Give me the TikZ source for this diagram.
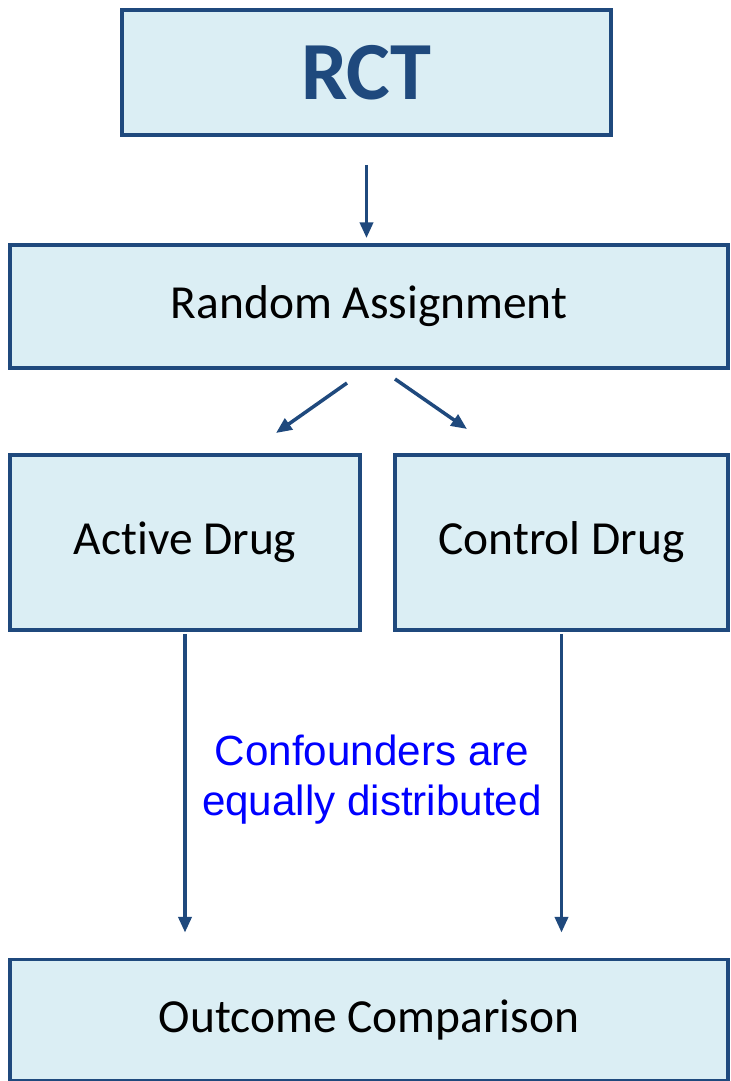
\documentclass[tikz,border=0pt]{standalone}
\usepackage{fontspec}
\setmainfont[Ligatures=NoCommon]{Carlito}
\newfontfamily\arialfont{Liberation Sans}
\usetikzlibrary{positioning, arrows.meta}
\definecolor{boxfill}{HTML}{DBEEF4}
\definecolor{boxline}{HTML}{1F497D}
\tikzset{box/.style={rectangle, draw=boxline, fill=boxfill, line width=2.2pt,
                     inner sep=0pt, font=\fontsize{27}{32}\selectfont},
         arr/.style={draw=boxline, line width=2pt,
                     -{Triangle[length=9pt,width=7.5pt]}}}

\begin{document}
\begin{tikzpicture}
        \useasboundingbox (0,0) rectangle (14.6,-21.62);
        \node[box, minimum width=9.78cm, minimum height=2.5cm,
              font=\fontsize{47}{50}\selectfont\bfseries, text=boxline] (rct) at (7.33,-1.45) {RCT};
        \node[box, minimum width=14.36cm, minimum height=2.46cm] (assign) at (7.38,-6.13) {Random Assignment};
        \node[box, minimum width=7cm, minimum height=3.5cm] (active) at (3.7,-10.85) {Active Drug};
        \node[box, minimum width=6.66cm, minimum height=3.5cm] (control) at (11.23,-10.85) {Control Drug};
        \node[box, minimum width=14.36cm, minimum height=2.42cm] (outcome) at (7.38,-20.4) {Outcome Comparison};
        \node[text=blue, align=center, font=\arialfont\fontsize{24}{28.4}\selectfont] (conf) at (7.44,-15.6)
              {Confounders are\\equally distributed};
        \coordinate (la) at (6.94,-7.66);
        \coordinate (lb) at (5.52,-8.66);
        \coordinate (ra) at (7.9,-7.58);
        \coordinate (rb) at (9.34,-8.58);
        \draw[arr, shorten <=0.56cm, shorten >=0.1cm] (rct) -- (rct |- assign.north);
        \draw[arr] (la) -- (lb);
        \draw[arr] (ra) -- (rb);
        \draw[arr, shorten <=0.04cm, shorten >=0.5cm] (active.south) -- (active.south |- outcome.north);
        \draw[arr, shorten <=0.04cm, shorten >=0.5cm] (control.south) -- (control.south |- outcome.north);
        \end{tikzpicture}
\end{document}
